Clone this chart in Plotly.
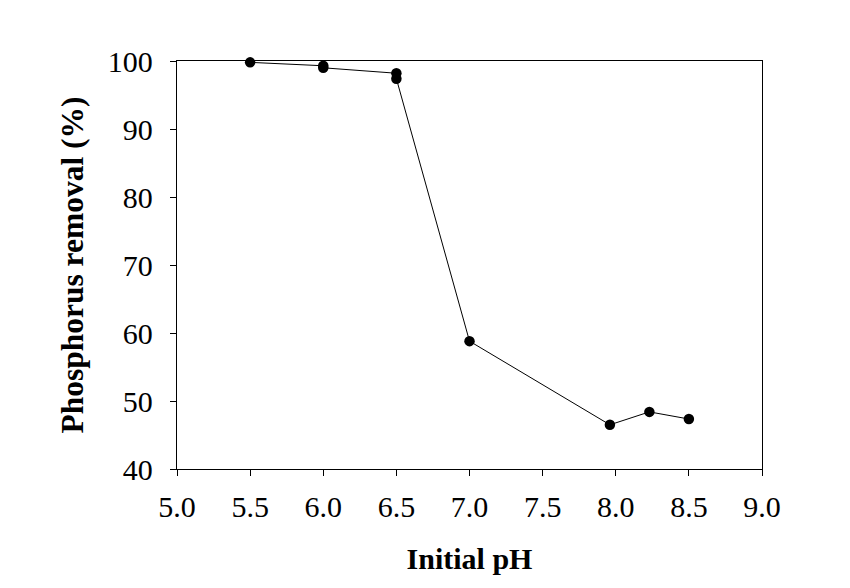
import plotly.graph_objects as go

ph = [5.5, 6.0, 6.0, 6.5, 6.5, 7.0, 7.96, 8.23, 8.5]
removal = [99.8, 99.3, 99.0, 98.2, 97.4, 58.8, 46.5, 48.4, 47.35]

x_ticks = [5.0, 5.5, 6.0, 6.5, 7.0, 7.5, 8.0, 8.5, 9.0]
y_ticks = [40, 50, 60, 70, 80, 90, 100]

fig = go.Figure()
fig.add_trace(go.Scatter(
    x=ph, y=removal, mode="lines+markers",
    line=dict(color="black", width=1),
    marker=dict(color="black", size=10.5),
    showlegend=False, cliponaxis=False,
))

font_family = "Liberation Serif"
fig.update_layout(
    width=850, height=588,
    margin=dict(l=177, r=88, t=61, b=119),
    paper_bgcolor="white", plot_bgcolor="white",
    font=dict(family=font_family, color="black", size=30),
    xaxis=dict(
        range=[5, 9], tickvals=x_ticks, ticktext=[f"{v:.1f}" for v in x_ticks],
        showline=True, linecolor="black", linewidth=1.3, mirror=True,
        ticks="outside", ticklen=6, tickwidth=1.3, tickcolor="black",
        showgrid=False, zeroline=False, ticklabelstandoff=5, automargin=False,
        title=dict(text="<b>Initial pH</b>", font=dict(size=30), standoff=25),
    ),
    yaxis=dict(
        range=[40, 100], tickvals=y_ticks,
        showline=True, linecolor="black", linewidth=1.3, mirror=True,
        ticks="outside", ticklen=6, tickwidth=1.3, tickcolor="black",
        showgrid=False, zeroline=False, ticklabelstandoff=11, automargin=False,
        title=dict(text="<b>Phosphorus removal (%)</b>", font=dict(size=31.5), standoff=14),
    ),
)

fig.write_html("out.html")
